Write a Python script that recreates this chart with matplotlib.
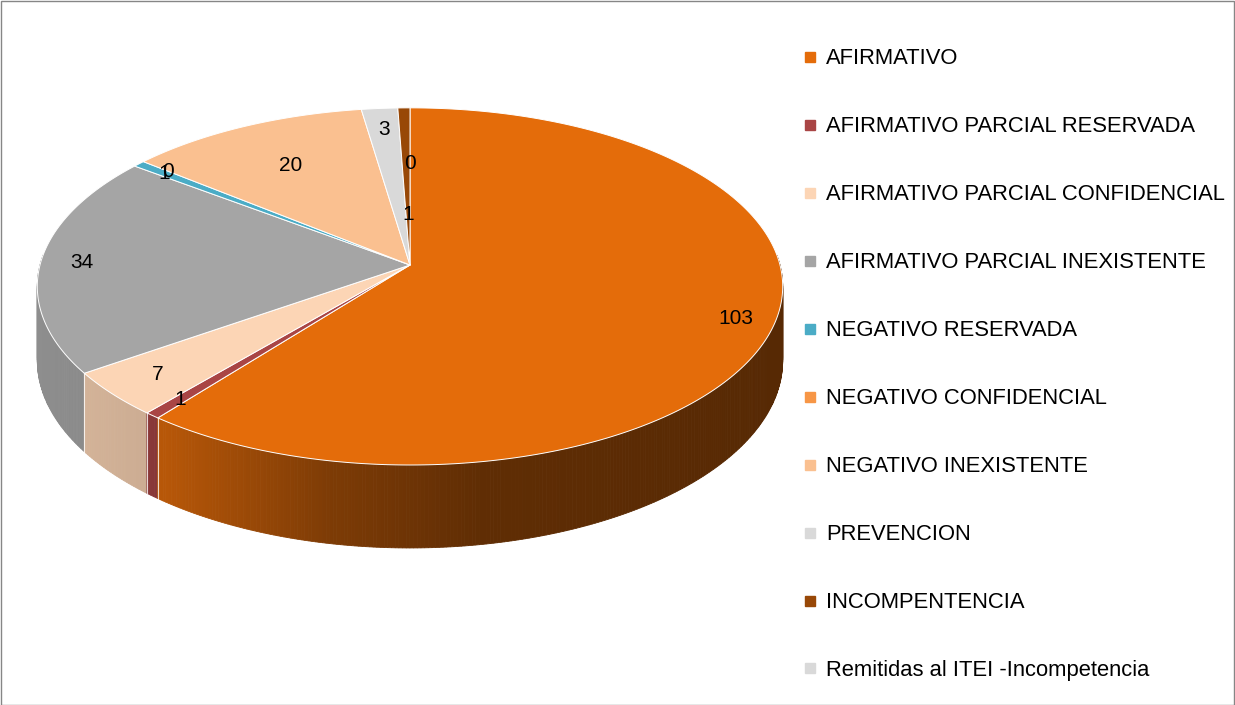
import numpy as np
import matplotlib
matplotlib.use('Agg')
import matplotlib.pyplot as plt
from matplotlib.patches import Polygon, Rectangle
from matplotlib.lines import Line2D
import matplotlib.colors as mcolors

plt.rcParams['font.family'] = ['Liberation Sans', 'DejaVu Sans']
plt.rcParams['font.size'] = 16

# datos
categorias = ['AFIRMATIVO', 'AFIRMATIVO PARCIAL RESERVADA', 'AFIRMATIVO PARCIAL CONFIDENCIAL',
              'AFIRMATIVO PARCIAL INEXISTENTE', 'NEGATIVO RESERVADA', 'NEGATIVO CONFIDENCIAL',
              'NEGATIVO INEXISTENTE', 'PREVENCION', 'INCOMPENTENCIA',
              'Remitidas al ITEI -Incompetencia']
valores = [103, 1, 7, 34, 1, 0, 20, 3, 1, 0]
colores = ['#E46C0A', '#A94545', '#FCD5B5', '#A5A5A5', '#4BACC6', '#F79646',
           '#FAC090', '#D9D9D9', '#984807', '#D9D9D9']

# radio de la etiqueta (fraccion del radio)
radio_etiqueta = [0.9, 0.9, 0.86, 0.89, 0.9, 0.9, 0.7, 0.85, 0.3, 0.62]

# geometria del pastel 3D (pixeles)
cx, cy = 410, 265
rx, a, k = 370, 176, 0.12
prof = 73


def proyectar(u, v, z=0.0):
    d = 1 + k * v
    return cx + rx * u / d, cy - a * v / d + z * prof / d


def sombra(x):
    return np.interp(x, [37, 170, 330, 480, 783], [0.86, 0.8, 0.55, 0.42, 0.38])


fig = plt.figure(figsize=(12.35, 7.05), dpi=100)
ax = fig.add_axes([0, 0, 1, 1])
ax.set_xlim(0, 1235)
ax.set_ylim(705, 0)
ax.axis('off')

total = sum(valores)
inicio = 90 - np.cumsum([0] + valores[:-1]) / total * 360
fin = inicio - np.array(valores) / total * 360

# paredes laterales
quads = []
for i, v in enumerate(valores):
    if v == 0:
        continue
    ang = np.linspace(inicio[i], fin[i], max(int(abs(fin[i] - inicio[i]) * 2), 2))
    for t0, t1 in zip(ang[:-1], ang[1:]):
        r0, r1 = np.radians(t0), np.radians(t1)
        if np.sin(r0) > 0.05 and np.sin(r1) > 0.05:
            continue
        p = [proyectar(np.cos(r0), np.sin(r0)), proyectar(np.cos(r1), np.sin(r1)),
             proyectar(np.cos(r1), np.sin(r1), 1), proyectar(np.cos(r0), np.sin(r0), 1)]
        xm = (p[0][0] + p[1][0]) / 2
        base = np.array(mcolors.to_rgb(colores[i]))
        quads.append((-(np.sin(r0) + np.sin(r1)), p, base * sombra(xm)))
quads.sort(key=lambda q: q[0])
for _, p, c in quads:
    ax.add_patch(Polygon(p, closed=True, facecolor=c, edgecolor=c, linewidth=0.6))

# bordes blancos entre paredes
for t in inicio:
    r = np.radians(t)
    if np.sin(r) < -k:
        x0, y0 = proyectar(np.cos(r), np.sin(r))
        x1, y1 = proyectar(np.cos(r), np.sin(r), 1)
        ax.plot([x0, x1], [y0, y1], color='white', lw=0.8, alpha=0.8)

# cara superior
for i, v in enumerate(valores):
    if v == 0:
        continue
    ang = np.radians(np.linspace(inicio[i], fin[i], max(int(abs(fin[i] - inicio[i]) * 2), 2)))
    pts = [proyectar(0, 0)] + [proyectar(np.cos(t), np.sin(t)) for t in ang]
    ax.add_patch(Polygon(pts, closed=True, facecolor=colores[i], edgecolor='white',
                         linewidth=0.7, joinstyle='round'))

# etiquetas
for i, v in enumerate(valores):
    t = np.radians((inicio[i] + fin[i]) / 2)
    r = radio_etiqueta[i]
    x, y = proyectar(r * np.cos(t), r * np.sin(t))
    ax.text(x, y, str(v), ha='center', va='center', fontsize=15, color='black')

# leyenda
handles = [Line2D([], [], marker='s', linestyle='none', markersize=6.5,
                  markerfacecolor=c, markeredgecolor=c) for c in colores]
fig.legend(handles, categorias, loc='upper left', bbox_to_anchor=(804.5 / 1235, 1 - 48.5 / 705),
           frameon=False, fontsize=15.8, handlelength=0.5, handletextpad=0.5,
           labelspacing=2.14, borderpad=0, borderaxespad=0)

# borde de la figura
fig.patches.append(Rectangle((0.5 / 1235, 0.5 / 705), 1 - 1.5 / 1235, 1 - 1.5 / 705,
                             transform=fig.transFigure, fill=False, edgecolor='#868686', lw=1))

fig.savefig('out.png', dpi=100)
